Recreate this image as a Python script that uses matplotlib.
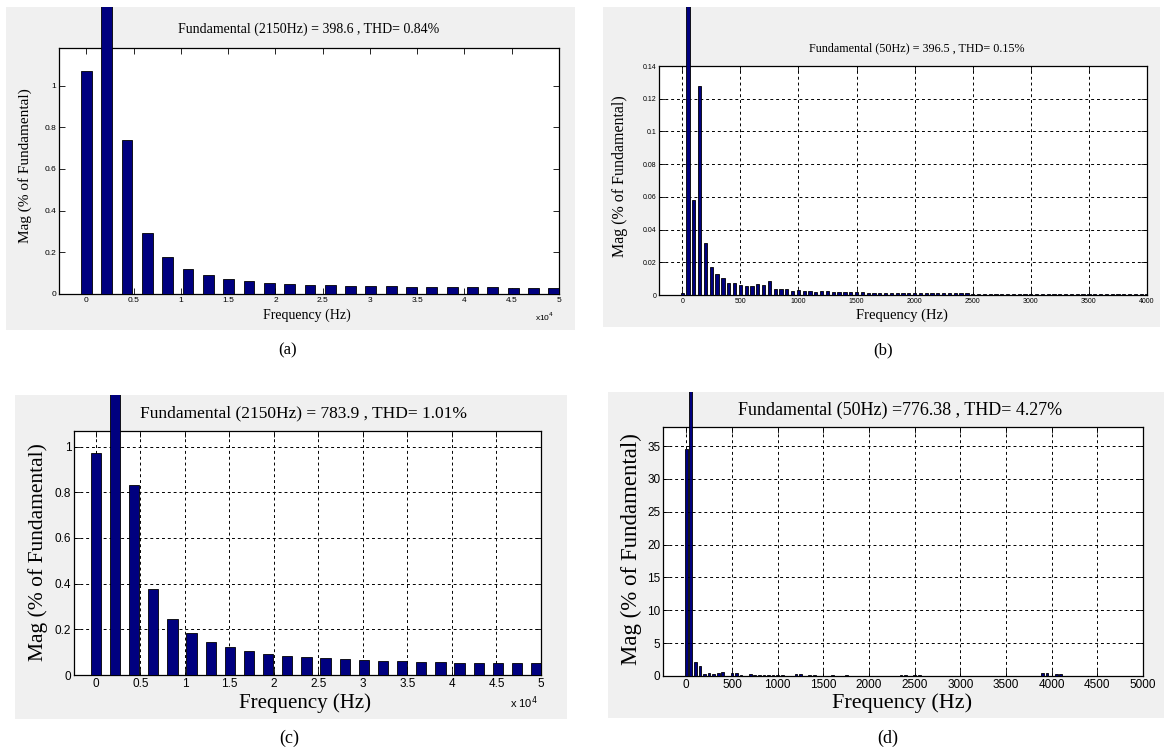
import numpy as np
import matplotlib
matplotlib.use('Agg')
import matplotlib.pyplot as plt
from matplotlib.patches import Rectangle
from matplotlib.ticker import FuncFormatter

# (a) / (c): 2150 Hz harmonics, magnitude in % of fundamental
ac_freq = [0, 2150, 4300, 6450, 8600, 10750, 12900, 15050, 17200, 19350, 21500, 23650,
           25800, 27950, 30100, 32250, 34400, 36550, 38700, 40850, 43000, 45150, 47300, 49450]
a_mag = [1.07, 100, 0.738, 0.295, 0.177, 0.12, 0.092, 0.073, 0.062, 0.053, 0.046, 0.041,
         0.041, 0.037, 0.037, 0.037, 0.032, 0.032, 0.032, 0.032, 0.032, 0.027, 0.027, 0.027]
c_mag = [0.972, 100, 0.831, 0.378, 0.245, 0.184, 0.144, 0.121, 0.105, 0.093, 0.085, 0.080,
         0.073, 0.069, 0.064, 0.061, 0.061, 0.057, 0.057, 0.052, 0.052, 0.052, 0.052, 0.052]

# (b): 50 Hz bins 0..4000 Hz
b_freq = np.arange(0, 4050, 50)
b_mag = [0.0014, 100, 0.058, 0.128, 0.0318, 0.0173, 0.0128, 0.0102, 0.0075, 0.0075,
         0.0061, 0.0055, 0.0055, 0.0069, 0.0063, 0.0084, 0.0037, 0.0035, 0.0037, 0.0026,
         0.0029, 0.0026, 0.0022, 0.0020, 0.0026, 0.0022, 0.0020, 0.0020, 0.0021, 0.0021,
         0.0020, 0.0021, 0.0015, 0.0014, 0.0014, 0.0013, 0.0014, 0.0013, 0.0013, 0.0012,
         0.0012, 0.0012, 0.0011, 0.0012, 0.0011, 0.0011, 0.0011, 0.0010, 0.0010, 0.0010,
         0.0009, 0.0007, 0.0007, 0.0006, 0.0007, 0.0006, 0.0006, 0.0006, 0.0006, 0.0005,
         0.0006, 0.0005, 0.0005, 0.0005, 0.0005, 0.0005, 0.0005, 0.0005, 0.0004, 0.0005,
         0.0004, 0.0004, 0.0004, 0.0004, 0.0004, 0.0004, 0.0004, 0.0004, 0.0004, 0.0004,
         0.0004]

# (d): only the non-empty 50 Hz bins
d_freq = [0, 50, 100, 150, 200, 250, 300, 350, 400, 500, 550, 600, 700, 750, 800, 850, 900,
          950, 1000, 1050, 1200, 1250, 1350, 1400, 1600, 1750, 2350, 2400, 2500, 2550,
          3900, 3950, 4050, 4100]
d_mag = [34.5, 100, 2.2, 1.45, 0.3, 0.4, 0.35, 0.45, 0.55, 0.4, 0.45, 0.15, 0.25, 0.15, 0.15,
         0.15, 0.15, 0.15, 0.15, 0.15, 0.35, 0.35, 0.15, 0.15, 0.1, 0.1, 0.15, 0.15, 0.15,
         0.15, 0.4, 0.5, 0.35, 0.35]

titles = ['Fundamental (2150Hz) = 398.6 , THD= 0.84%',
          'Fundamental (50Hz) = 396.5 , THD= 0.15%',
          'Fundamental (2150Hz) = 783.9 , THD= 1.01%',
          'Fundamental (50Hz) =776.38 , THD= 4.27%']

W, H = 1164, 751
SERIF = 'Liberation Serif'
SANS = 'Liberation Sans'
BAR = '#00007f'

fig = plt.figure(figsize=(W / 100, H / 100), dpi=100)


def fx(x):
    return x / W


def fy(y):
    return 1 - y / H


def make_panel(box, axbox):
    l, t, r, b = box
    rect = Rectangle((fx(l), fy(b)), fx(r - l), (b - t) / H, transform=fig.transFigure,
                     facecolor='#f0f0f0', edgecolor='none', zorder=0)
    fig.patches.append(rect)
    l, t, r, b = axbox
    ax = fig.add_axes([fx(l), fy(b), fx(r - l), (b - t) / H])
    ax.set_zorder(2)
    return ax, rect


def draw_bars(ax, rect, freq, mag, width):
    bars = ax.bar(freq, mag, width=width, color=BAR, edgecolor='black', linewidth=0.6,
                  zorder=3)
    # the fundamental (100 %) runs off the axes up to the panel edge
    for p, m in zip(bars, mag):
        if m >= 100:
            p.set_clip_path(rect)


def style(ax, tick_fs, grid):
    ax.tick_params(direction='in', top=True, right=True, length=4, width=0.6,
                   labelsize=tick_fs, pad=2)
    for lab in ax.get_xticklabels() + ax.get_yticklabels():
        lab.set_fontfamily(SANS)
    for s in ax.spines.values():
        s.set_linewidth(0.9)
    if grid:
        ax.grid(True, color='black', linestyle=(0, (3, 3)), linewidth=0.7)
        ax.set_axisbelow(True)


def e4(v, pos):
    return '%g' % (v / 1e4)


# (a)
ax, rect = make_panel((6, 7, 575, 330), (59, 48, 559, 294))
draw_bars(ax, rect, ac_freq, a_mag, 1150)
ax.set_xlim(-2900, 50000)
ax.set_ylim(0, 1.18)
ax.set_xticks(np.arange(0, 50001, 5000))
ax.xaxis.set_major_formatter(FuncFormatter(e4))
ax.set_yticks([0, 0.2, 0.4, 0.6, 0.8, 1])
ax.yaxis.set_major_formatter(FuncFormatter(lambda v, p: '%g' % v))
style(ax, 6, False)
fig.text(fx(309), fy(29), titles[0], family=SERIF, fontsize=10, ha='center', va='center')
fig.text(fx(307), fy(315), 'Frequency (Hz)', family=SERIF, fontsize=10, ha='center', va='center')
fig.text(fx(25), fy(166), 'Mag (% of Fundamental)', family=SERIF, fontsize=11, rotation=90,
         ha='center', va='center')
fig.text(fx(545), fy(317), r'x10$^4$', family=SANS, fontsize=6, ha='center', va='center')
fig.text(fx(288), fy(350), '(a)', family=SERIF, fontsize=12, ha='center', va='center')

# (b)
ax, rect = make_panel((603, 7, 1160, 327), (659, 66, 1147, 295))
draw_bars(ax, rect, b_freq, b_mag, 28)
ax.set_xlim(-200, 4000)
ax.set_ylim(0, 0.14)
ax.set_xticks(np.arange(0, 4001, 500))
ax.set_yticks(np.arange(0, 0.1401, 0.02))
ax.yaxis.set_major_formatter(FuncFormatter(lambda v, p: '%g' % round(v, 2)))
style(ax, 5, True)
fig.text(fx(917), fy(48), titles[1], family=SERIF, fontsize=8.7, ha='center', va='center')
fig.text(fx(902), fy(315), 'Frequency (Hz)', family=SERIF, fontsize=10.5, ha='center', va='center')
fig.text(fx(620), fy(176), 'Mag (% of Fundamental)', family=SERIF, fontsize=11.5, rotation=90,
         ha='center', va='center')
fig.text(fx(883), fy(350), '(b)', family=SERIF, fontsize=12, ha='center', va='center')

# (c)
ax, rect = make_panel((15, 395, 567, 719), (74, 431, 541, 675))
draw_bars(ax, rect, ac_freq, c_mag, 1150)
ax.set_xlim(-2460, 50000)
ax.set_ylim(0, 1.068)
ax.set_xticks(np.arange(0, 50001, 5000))
ax.xaxis.set_major_formatter(FuncFormatter(e4))
ax.set_yticks([0, 0.2, 0.4, 0.6, 0.8, 1])
ax.yaxis.set_major_formatter(FuncFormatter(lambda v, p: '%g' % v))
style(ax, 8.5, True)
fig.text(fx(304), fy(413), titles[2], family=SERIF, fontsize=12.5, ha='center', va='center')
fig.text(fx(305), fy(703), 'Frequency (Hz)', family=SERIF, fontsize=15, ha='center', va='center')
fig.text(fx(38), fy(552), 'Mag (% of Fundamental)', family=SERIF, fontsize=15.5, rotation=90,
         ha='center', va='center')
fig.text(fx(524), fy(703), r'x 10$^4$', family=SANS, fontsize=8, ha='center', va='center')
fig.text(fx(289), fy(738), '(c)', family=SERIF, fontsize=13, ha='center', va='center')

# (d)
ax, rect = make_panel((608, 392, 1164, 718), (663, 427, 1143, 676))
draw_bars(ax, rect, d_freq, d_mag, 30)
ax.set_xlim(-255, 5000)
ax.set_ylim(0, 37.9)
ax.set_xticks(np.arange(0, 5001, 500))
ax.set_yticks(np.arange(0, 36, 5))
style(ax, 8.5, True)
fig.text(fx(900), fy(410), titles[3], family=SERIF, fontsize=13, ha='center', va='center')
fig.text(fx(902), fy(703), 'Frequency (Hz)', family=SERIF, fontsize=16, ha='center', va='center')
fig.text(fx(631), fy(549), 'Mag (% of Fundamental)', family=SERIF, fontsize=16.5, rotation=90,
         ha='center', va='center')
fig.text(fx(888), fy(738), '(d)', family=SERIF, fontsize=13, ha='center', va='center')

fig.savefig('out.png', dpi=100, facecolor='white')
